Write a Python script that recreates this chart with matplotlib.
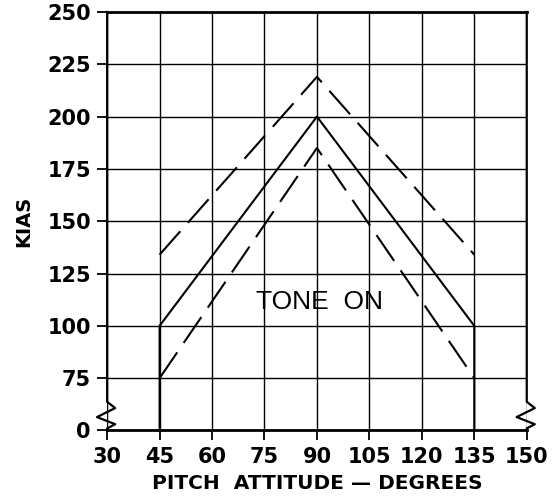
import matplotlib
matplotlib.use("Agg")
import matplotlib.pyplot as plt
import numpy as np

# valores
pitch = [45, 45, 90, 135, 135]
kias_tone = [0, 100, 200, 100, 0]
pitch_dash = [45, 90, 135]
kias_upper = [134, 219, 134]
kias_lower = [75, 185, 75]

x_ticks = [30, 45, 60, 75, 90, 105, 120, 135, 150]
y_labels = ["0", "75", "100", "125", "150", "175", "200", "225", "250"]


def kias_pos(v):
    # el eje esta cortado: el 0 se dibuja donde iria 50
    v = np.asarray(v, dtype=float)
    return np.where(v < 75, 50 + v / 75 * 25, v)


plt.rcParams['font.family'] = ['DejaVu Sans']

fig = plt.figure(figsize=(5.58, 4.98), dpi=100)
ax = fig.add_axes([0.192, 0.1356, 0.752, 0.8404])
ax.set_xlim(30, 150)
ax.set_ylim(50, 250)

y_pos = [50] + list(range(75, 251, 25))
ax.set_xticks(x_ticks)
ax.set_xticklabels([str(t) for t in x_ticks], fontsize=15, fontweight='bold')
ax.set_yticks(y_pos)
ax.set_yticklabels(y_labels, fontsize=15, fontweight='bold')
ax.tick_params(length=7.2, width=1.3, color='black', pad=4.5)
ax.grid(True, color='black', linewidth=1.0)

for s in ['left', 'right']:
    ax.spines[s].set_visible(False)
for s in ['top', 'bottom']:
    ax.spines[s].set_linewidth(2)

# bordes laterales con el corte en zigzag
zz_y = [250, 63.7, 60.7, 56.4, 53, 51, 50]
zz_dx = [0, 0, 2.3, -2.9, 2.3, 0, 0]
for x0 in [30, 150]:
    ax.plot([x0 + d for d in zz_dx], zz_y, color='black', lw=1.6,
            clip_on=False, zorder=5)

ax.plot(pitch, kias_pos(kias_tone), color='black', lw=1.5, zorder=4)
dash = (0, (15, 5.5))
ax.plot(pitch_dash, kias_pos(kias_upper), color='black', lw=1.5, ls=dash, zorder=4)
ax.plot(pitch_dash, kias_pos(kias_lower), color='black', lw=1.5, ls=dash, zorder=4)

ax.text(90.6, 111.5, "TONE  ON", fontsize=19, ha='center', va='center',
        family='Liberation Sans')

ax.set_xlabel("PITCH  ATTITUDE \u2014 DEGREES", fontsize=14.5, fontweight='bold', labelpad=5)
ax.set_ylabel("KIAS", fontsize=14, fontweight='bold', labelpad=10)

fig.savefig("out.png", dpi=100)
